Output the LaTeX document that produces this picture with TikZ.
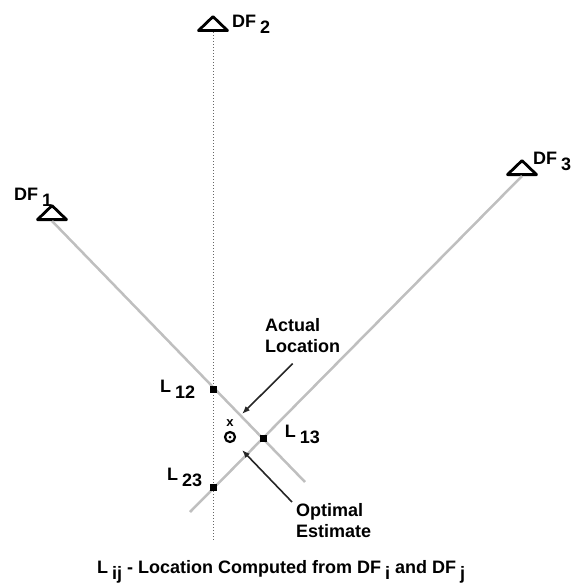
\documentclass[tikz,border=0pt]{standalone}
\usepackage{fontspec}
\setmainfont{Liberation Sans}
\usetikzlibrary{shapes.geometric,arrows.meta,positioning}

\newcommand{\lowsub}[1]{\hspace{4pt}\raisebox{-6pt}{#1}}

\begin{document}
\begin{tikzpicture}[x=1pt, y=-1pt, inner sep=0pt,
        font=\fontsize{18}{21}\selectfont\bfseries,
        sensor/.style={isosceles triangle, isosceles triangle stretches, shape border rotate=90, draw, line width=2.8pt, line join=round, minimum width=29pt, minimum height=14pt},
        bearing/.style={draw=black!25, line width=2.5pt},
        fix/.style={rectangle, fill=black, minimum size=7pt},
        pointer/.style={-{Latex[length=8pt,width=6pt]}, line width=1.6pt, draw=black!85}]

    \useasboundingbox (0,0) rectangle (575,583);

    % direction finders
    \node[sensor, anchor=lower side] (df1) at (52,221) {};
    \node[sensor, anchor=lower side] (df2) at (213,32) {};
    \node[sensor, anchor=lower side] (df3) at (522,176) {};
    \node[anchor=base west] (df1lab) at (14,200) {DF\lowsub{1}};
    \node[anchor=base west] (df2lab) at (232,28) {DF\lowsub{2}};
    \node[anchor=base west] (df3lab) at (533,164) {DF\lowsub{3}};

    % bearing lines
    \coordinate (end1) at (305,482);
    \coordinate (end2) at (213,540);
    \coordinate (end3) at (190,512);
    \draw[bearing] (df1.lower side) -- (end1);
    \draw[bearing] (df3.lower side) -- (end3);
    \draw[dotted, line width=1pt, black!60] (df2.lower side) -- (end2);

    % computed locations
    \node[fix] (l12) at (213,389) {};
    \node[fix] (l13) at (263,438) {};
    \node[fix] (l23) at (213,487) {};
    \node[left=14pt of l12] (l12lab) {L\lowsub{12}};
    \node[right=18pt of l13, yshift=4pt] (l13lab) {L\lowsub{13}};
    \node[left=7pt of l23, yshift=10pt] (l23lab) {L\lowsub{23}};

    % actual and optimal
    \node[font=\fontsize{13}{13}\selectfont\bfseries] (actualx) at (230,423) {x};
    \node[circle, draw, line width=2.2pt, minimum size=10pt] (optimalo) at (230,437) {};
    \fill (optimalo) circle (1.5pt);
    \node[anchor=north west, align=left] (actual) at (265,318) {Actual\\Location};
    \node[anchor=north west, align=left] (optimal) at (296,503) {Optimal\\Estimate};
    \coordinate (actualtip) at (242,414);
    \coordinate (optimaltip) at (242,450);
    \draw[pointer] ([shift={(-10,11)}]actual.south) -- (actualtip);
    \draw[pointer] ([shift={(-4,-1)}]optimal.north west) -- (optimaltip);

    \node[anchor=base west] (legend) at (97,573) {L\lowsub{ij} - Location Computed from DF\lowsub{i} and DF\lowsub{j}};
\end{tikzpicture}
\end{document}
